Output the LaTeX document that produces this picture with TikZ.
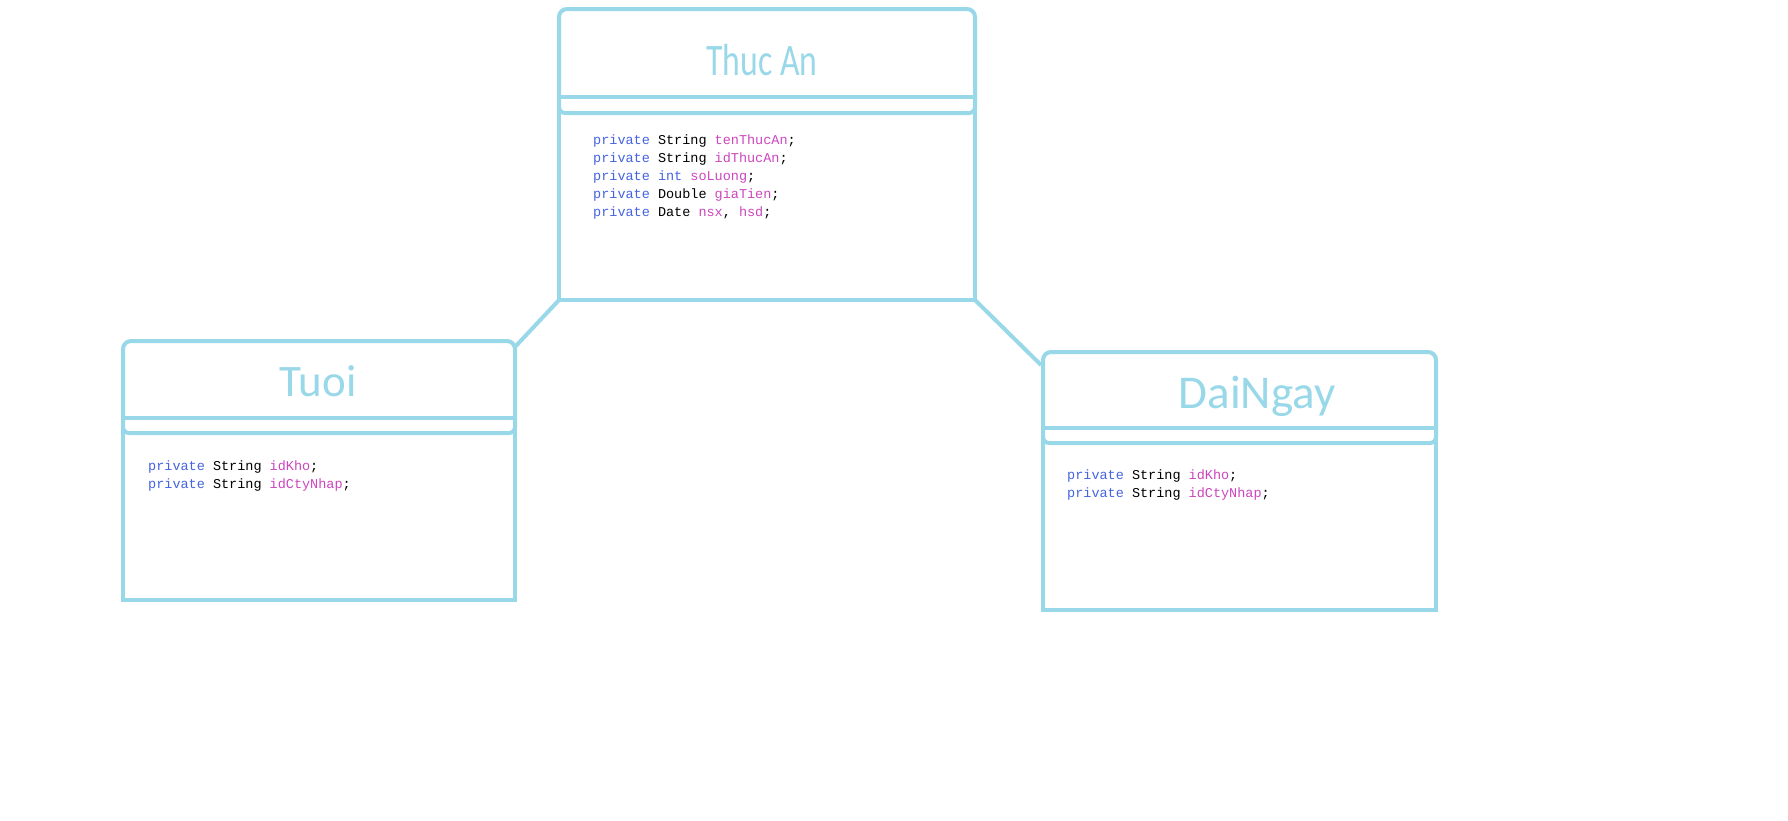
\documentclass[tikz,border=0pt]{standalone}
\usepackage{fontspec}
\usepackage{graphicx}
\usetikzlibrary{calc}
\newfontfamily\codefont{Liberation Mono}
\newfontfamily\titlefont{Carlito}
\definecolor{frame}{RGB}{152,216,233}
\definecolor{kwblue}{RGB}{70,100,225}
\definecolor{fldpink}{RGB}{205,70,190}
\newcommand\ckw[1]{\textcolor{kwblue}{#1}}
\newcommand\cfd[1]{\textcolor{fldpink}{#1}}
\begin{document}
\begin{tikzpicture}[x=1pt,y=-1pt,
  frameline/.style={draw=frame,line width=4pt},
  classbox/.style={rectangle,inner sep=0,outer sep=0,draw=none},
  title/.style={anchor=base,inner sep=0,text=frame,font=\titlefont\fontsize{45}{50}\selectfont},
  code/.style={anchor=base west,inner sep=0,font=\codefont\fontsize{13.5}{18}\selectfont},
  conn/.style={draw=frame,line width=4pt}]
\useasboundingbox[fill=white] (0,0) rectangle (1788,820);
% boxes
\node[classbox,minimum width=416,minimum height=291] (thuc) at (767,154.5) {};
\node[classbox,minimum width=392,minimum height=259] (tuoi) at (319,470.5) {};
\node[classbox,minimum width=393,minimum height=258] (dai) at (1239.5,481) {};
% Thuc An frame
\draw[frameline,rounded corners=8] ($(thuc.north west)+(0,88)$) |- (thuc.north east) -- ($(thuc.north east)+(0,88)$);
\draw[frameline] ($(thuc.north west)+(0,88)$) rectangle (thuc.south east);
\draw[frameline,rounded corners=6] ($(thuc.north west)+(0,88)$) -- ($(thuc.north west)+(0,104)$) -- ($(thuc.north east)+(0,104)$) -- ($(thuc.north east)+(0,88)$);
% Tuoi frame
\draw[frameline,rounded corners=8] ($(tuoi.north west)+(0,77)$) |- (tuoi.north east) -- ($(tuoi.north east)+(0,77)$);
\draw[frameline] ($(tuoi.north west)+(0,77)$) rectangle (tuoi.south east);
\draw[frameline,rounded corners=6] ($(tuoi.north west)+(0,77)$) -- ($(tuoi.north west)+(0,92)$) -- ($(tuoi.north east)+(0,92)$) -- ($(tuoi.north east)+(0,77)$);
% DaiNgay frame
\draw[frameline,rounded corners=8] ($(dai.north west)+(0,76)$) |- (dai.north east) -- ($(dai.north east)+(0,76)$);
\draw[frameline] ($(dai.north west)+(0,76)$) rectangle (dai.south east);
\draw[frameline,rounded corners=6] ($(dai.north west)+(0,76)$) -- ($(dai.north west)+(0,91)$) -- ($(dai.north east)+(0,91)$) -- ($(dai.north east)+(0,76)$);
% connectors
\coordinate (tuoiend) at ($(tuoi.north east)+(-1,7)$);
\coordinate (daiend) at ($(dai.north west)+(-2,13)$);
\draw[conn] (thuc.south west) -- (tuoiend);
\draw[conn] (thuc.south east) -- (daiend);
% titles
\node[title] (thucT) at (762,75) {\scalebox{0.75}[1]{Thuc An}};
\node[title] (tuoiT) at (318,396) {Tuoi};
\node[title,font=\titlefont\fontsize{47}{52}\selectfont] (daiT) at (1257,408) {DaiNgay};
% code
\node[code] (th1) at (593,144) {\ckw{private} String \cfd{tenThucAn};};
\node[code] (th2) at (593,162) {\ckw{private} String \cfd{idThucAn};};
\node[code] (th3) at (593,180) {\ckw{private} \ckw{int} \cfd{soLuong};};
\node[code] (th4) at (593,198) {\ckw{private} Double \cfd{giaTien};};
\node[code] (th5) at (593,216) {\ckw{private} Date \cfd{nsx}, \cfd{hsd};};
\node[code] (tu1) at (148,470) {\ckw{private} String \cfd{idKho};};
\node[code] (tu2) at (148,488) {\ckw{private} String \cfd{idCtyNhap};};
\node[code] (dn1) at (1067,479) {\ckw{private} String \cfd{idKho};};
\node[code] (dn2) at (1067,497) {\ckw{private} String \cfd{idCtyNhap};};
\end{tikzpicture}
\end{document}
